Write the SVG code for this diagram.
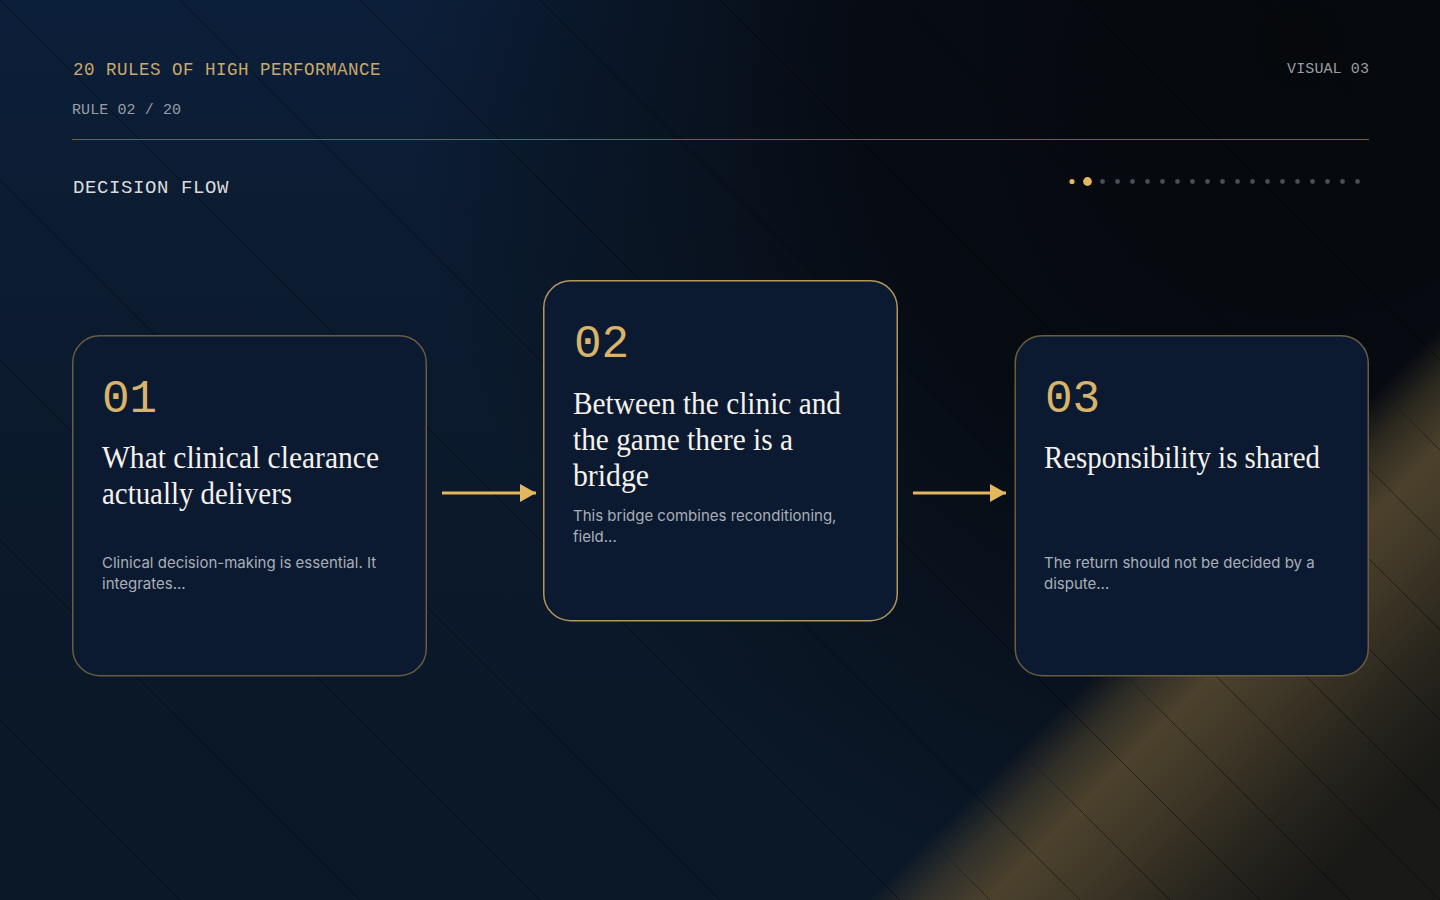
<svg xmlns="http://www.w3.org/2000/svg" width="1440" height="900" viewBox="0 0 1440 900">
  <defs>
    <linearGradient id="navy" x1="0" y1="0" x2="0" y2="900" gradientUnits="userSpaceOnUse">
      <stop offset="0" stop-color="#0c1f3a"/>
      <stop offset="1" stop-color="#0b1828" stop-opacity="0"/>
    </linearGradient>
    <radialGradient id="dark" cx="1300" cy="40" r="900" gradientUnits="userSpaceOnUse">
      <stop offset="0" stop-color="#05070a" stop-opacity="0.97"/>
      <stop offset="0.5" stop-color="#06090e" stop-opacity="0.85"/>
      <stop offset="1" stop-color="#06090e" stop-opacity="0"/>
    </radialGradient>
    <linearGradient id="gold" x1="800" y1="800" x2="1100" y2="1100" gradientUnits="userSpaceOnUse">
      <stop offset="0.28" stop-color="#4f442d" stop-opacity="0"/>
      <stop offset="0.37" stop-color="#4f442d" stop-opacity="0.55"/>
      <stop offset="0.48" stop-color="#4f442d" stop-opacity="0.95"/>
      <stop offset="0.62" stop-color="#433a28" stop-opacity="0.93"/>
      <stop offset="0.82" stop-color="#2a261d" stop-opacity="0.92"/>
      <stop offset="1" stop-color="#1a1915" stop-opacity="0.92"/>
    </linearGradient>
    <linearGradient id="maskGrad" x1="800" y1="800" x2="1100" y2="1100" gradientUnits="userSpaceOnUse">
      <stop offset="0.28" stop-color="#000"/>
      <stop offset="0.48" stop-color="#fff"/>
      <stop offset="1" stop-color="#fff"/>
    </linearGradient>
    <mask id="goldMask" maskUnits="userSpaceOnUse" x="0" y="0" width="1440" height="900">
      <rect width="1440" height="900" fill="url(#maskGrad)"/>
    </mask>
    <marker id="arrow" markerUnits="userSpaceOnUse" markerWidth="17" markerHeight="19" refX="16" refY="9" orient="auto">
      <path d="M0,0 L16,9 L0,18 Z" fill="#e3b75f"/>
    </marker>
    <style>
      .mono { font-family: "Liberation Mono", "DejaVu Sans Mono", monospace; }
      .kicker { font-size: 17.5px; letter-spacing: 0.5px; fill: #c9a96c; }
      .meta { font-size: 15px; letter-spacing: 0.1px; fill: #999ea6; }
      .section { font-size: 19px; letter-spacing: 0.6px; fill: #dcdcdc; }
      .card { fill: #0b1a31; stroke: #6a5c40; stroke-width: 1.5; }
      .card.active { stroke: #b4955a; }
      .num { font-family: "Liberation Mono", "DejaVu Sans Mono", monospace; font-size: 46px; fill: #d8b36a; }
      .title { font-family: "Liberation Serif", "DejaVu Serif", serif; font-size: 31px; fill: #f5f2ec; }
      .body { font-family: Inter, "Noto Sans", "Liberation Sans", sans-serif; font-size: 15px; fill: #a9afb8; }
      .bgline { stroke: #000; stroke-width: 1; stroke-opacity: 0.45; fill: none; }
      .bgline2 { stroke: #000; stroke-width: 1; stroke-opacity: 0.5; fill: none; }
      .dot { fill: #4a4f57; }
      .dot.on { fill: #e3b75f; }
      .connector { stroke: #e3b75f; stroke-width: 3; fill: none; marker-end: url(#arrow); }
    </style>
  </defs>

  <g id="background">
    <rect width="1440" height="900" fill="#0b1828"/>
    <rect width="1440" height="900" fill="url(#navy)"/>
    <rect width="1440" height="900" fill="url(#dark)"/>
    <rect width="1440" height="900" fill="url(#gold)"/>
    <path class="bgline" d="M-1800,0 L-900,900 M-1620,0 L-720,900 M-1440,0 L-540,900 M-1260,0 L-360,900 M-1080,0 L-180,900 M-900,0 L0,900 M-720,0 L180,900 M-540,0 L360,900 M-360,0 L540,900 M-180,0 L720,900 M0,0 L900,900 M180,0 L1080,900 M360,0 L1260,900 M540,0 L1440,900 M720,0 L1620,900 M900,0 L1800,900 M1080,0 L1980,900 M1260,0 L2160,900 M1440,0 L2340,900"/>
    <path class="bgline2" mask="url(#goldMask)" d="M-810,0 L90,900 M-630,0 L270,900 M-450,0 L450,900 M-270,0 L630,900 M-90,0 L810,900 M90,0 L990,900 M270,0 L1170,900 M450,0 L1350,900 M630,0 L1530,900 M810,0 L1710,900 M990,0 L1890,900 M1170,0 L2070,900 M1350,0 L2250,900"/>
  </g>

  <g id="header">
    <text class="mono kicker" x="73" y="75">20 RULES OF HIGH PERFORMANCE</text>
    <text class="mono meta" x="72" y="114">RULE 02 / 20</text>
    <text class="mono meta" x="1369" y="73" text-anchor="end">VISUAL 03</text>
    <line x1="72" y1="139.5" x2="1369" y2="139.5" stroke="#74603b" stroke-width="1"/>
    <text class="mono section" x="73" y="193">DECISION FLOW</text>
  </g>

  <g id="progress">
    <circle class="dot on" cx="1072" cy="181.5" r="2.6"/>
    <circle class="dot on" cx="1087.5" cy="181.5" r="4.4"/>
    <circle class="dot" cx="1102.5" cy="181.5" r="2.4"/>
    <circle class="dot" cx="1117.5" cy="181.5" r="2.4"/>
    <circle class="dot" cx="1132.5" cy="181.5" r="2.4"/>
    <circle class="dot" cx="1147.5" cy="181.5" r="2.4"/>
    <circle class="dot" cx="1162.5" cy="181.5" r="2.4"/>
    <circle class="dot" cx="1177.5" cy="181.5" r="2.4"/>
    <circle class="dot" cx="1192.5" cy="181.5" r="2.4"/>
    <circle class="dot" cx="1207.5" cy="181.5" r="2.4"/>
    <circle class="dot" cx="1222.5" cy="181.5" r="2.4"/>
    <circle class="dot" cx="1237.5" cy="181.5" r="2.4"/>
    <circle class="dot" cx="1252.5" cy="181.5" r="2.4"/>
    <circle class="dot" cx="1267.5" cy="181.5" r="2.4"/>
    <circle class="dot" cx="1282.5" cy="181.5" r="2.4"/>
    <circle class="dot" cx="1297.5" cy="181.5" r="2.4"/>
    <circle class="dot" cx="1312.5" cy="181.5" r="2.4"/>
    <circle class="dot" cx="1327.5" cy="181.5" r="2.4"/>
    <circle class="dot" cx="1342.5" cy="181.5" r="2.4"/>
    <circle class="dot" cx="1357.5" cy="181.5" r="2.4"/>
  </g>

  <g id="connectors">
    <line class="connector" x1="442" y1="493" x2="536" y2="493"/>
    <line class="connector" x1="913" y1="493" x2="1006" y2="493"/>
  </g>

  <g id="node-01">
    <rect class="card" x="72.75" y="335.75" width="353.5" height="340" rx="27"/>
    <text class="num" x="102" y="412">01</text>
    <text class="title" x="102" y="468" textLength="277" lengthAdjust="spacingAndGlyphs">What clinical clearance</text>
    <text class="title" x="102" y="504" textLength="190" lengthAdjust="spacingAndGlyphs">actually delivers</text>
    <text class="body" x="102" y="568">Clinical decision-making is essential. It</text>
    <text class="body" x="102" y="589">integrates...</text>
  </g>

  <g id="node-02">
    <rect class="card active" x="543.75" y="280.75" width="353.5" height="340" rx="27"/>
    <text class="num" x="574" y="357">02</text>
    <text class="title" x="573" y="414" textLength="268" lengthAdjust="spacingAndGlyphs">Between the clinic and</text>
    <text class="title" x="573" y="450" textLength="220" lengthAdjust="spacingAndGlyphs">the game there is a</text>
    <text class="title" x="573" y="486" textLength="76" lengthAdjust="spacingAndGlyphs">bridge</text>
    <text class="body" x="573" y="521">This bridge combines reconditioning,</text>
    <text class="body" x="573" y="542">field...</text>
  </g>

  <g id="node-03">
    <rect class="card" x="1015.25" y="335.75" width="353" height="340" rx="27"/>
    <text class="num" x="1045" y="412">03</text>
    <text class="title" x="1044" y="468" textLength="276" lengthAdjust="spacingAndGlyphs">Responsibility is shared</text>
    <text class="body" x="1044" y="568">The return should not be decided by a</text>
    <text class="body" x="1044" y="589">dispute...</text>
  </g>
</svg>
